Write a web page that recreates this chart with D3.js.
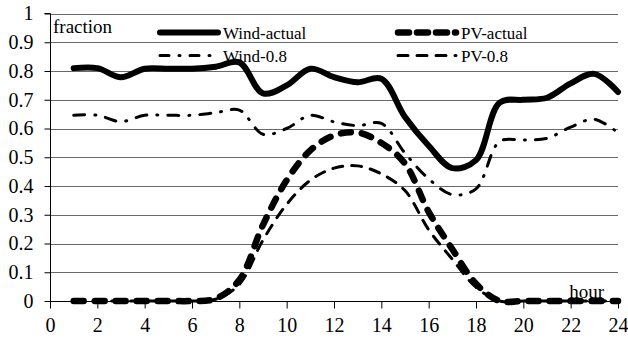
<!DOCTYPE html>
<html><head><meta charset="utf-8">
<script src="https://cdn.jsdelivr.net/npm/d3@7"></script>
<style>body{margin:0;background:#fff}svg{display:block}</style>
</head><body>
<svg id="c" width="628" height="342"></svg>
<script>
const hours = d3.range(1, 25);
const windActual = [0.81,0.81,0.778,0.808,0.808,0.808,0.815,0.83,0.722,0.75,0.808,0.779,0.761,0.773,0.64,0.54,0.462,0.49,0.69,0.70,0.707,0.757,0.79,0.727];
const wind08 = [0.646,0.646,0.624,0.646,0.646,0.646,0.655,0.664,0.58,0.60,0.646,0.623,0.61,0.618,0.514,0.425,0.37,0.39,0.555,0.56,0.566,0.605,0.632,0.585];
const pvActual = [0,0,0,0,0,0,0.008,0.073,0.265,0.42,0.524,0.576,0.586,0.55,0.478,0.31,0.18,0.06,0,0,0,0,0,0];
const pv08 = [0,0,0,0,0,0,0.006,0.058,0.212,0.336,0.42,0.462,0.47,0.442,0.384,0.248,0.145,0.048,0,0,0,0,0,0];
const xTicks = d3.range(0, 25, 2);
const yTicks = d3.range(0, 11).map(d => d / 10);
const seriesNames = ["Wind-actual", "PV-actual", "Wind-0.8", "PV-0.8"];

const FONT = '"Liberation Serif"';
const svg = d3.select("#c").style("font-family", FONT);
const L = 50, R = 618, T = 13.5, B = 301;
const x = d3.scaleLinear().domain([0, 24]).range([L, R]);
const y = d3.scaleLinear().domain([0, 1]).range([B, T]);

// grid
svg.append("g").selectAll("line").data(yTicks.filter(d => d > 0)).join("line")
  .attr("x1", L).attr("x2", R).attr("y1", d => Math.round(y(d)) + 0.5).attr("y2", d => Math.round(y(d)) + 0.5)
  .attr("stroke", "#6a6a6a").attr("stroke-width", 1);

// y axis
const ya = svg.append("g").attr("transform", `translate(${L + 0.5},0)`)
  .call(d3.axisLeft(y).tickValues(yTicks).tickSize(6).tickPadding(11).tickFormat(d => d === 0 ? "0" : d === 1 ? "1" : d3.format(".1f")(d)));
ya.attr("font-family", null).attr("font-size", null);
ya.select(".domain").attr("stroke", "#000").attr("d", `M-6,${T}H0V${B}`);
ya.selectAll(".tick line").attr("stroke", "#000");
ya.selectAll("text").style("font-family", FONT).style("font-size", "20px").attr("fill", "#000");

// x axis
const xa = svg.append("g").attr("transform", `translate(0,${B + 0.5})`)
  .call(d3.axisBottom(x).tickValues(xTicks).tickSize(7).tickPadding(9).tickFormat(d3.format("d")));
xa.attr("font-family", null).attr("font-size", null);
xa.select(".domain").attr("stroke", "#000").attr("d", `M${L},0H${R}`);
xa.selectAll(".tick line").attr("stroke", "#000");
xa.selectAll("text").style("font-family", FONT).style("font-size", "20px").attr("fill", "#000");

const line = d3.line().x((d, i) => x(hours[i])).y(d => y(d)).curve(d3.curveCatmullRom.alpha(0.5));

const styles = {
  "Wind-actual": {data: windActual, w: 6, dash: null, cap: "round"},
  "PV-actual": {data: pvActual, w: 6.5, dash: "10,11", cap: "round"},
  "Wind-0.8": {data: wind08, w: 3, dash: "11,10,1,10", cap: "round"},
  "PV-0.8": {data: pv08, w: 3, dash: "10,9", cap: "round"}
};

const plot = svg.append("g");
["PV-0.8", "Wind-0.8", "PV-actual", "Wind-actual"].forEach(n => {
  const s = styles[n];
  plot.append("path").attr("d", line(s.data)).attr("fill", "none").attr("stroke", "#000")
    .attr("stroke-width", s.w).attr("stroke-linecap", s.cap).attr("stroke-linejoin", "round")
    .attr("stroke-dasharray", s.dash);
});

// legend
const legPos = {"Wind-actual": [157, 32.5], "PV-actual": [395, 32.5], "Wind-0.8": [157, 55.5], "PV-0.8": [395, 55.5]};
const lg = svg.append("g");
seriesNames.forEach(n => {
  const s = styles[n], p = legPos[n];
  lg.append("line").attr("x1", p[0] + 3).attr("x2", p[0] + 61).attr("y1", p[1]).attr("y2", p[1])
    .attr("stroke", "#000").attr("stroke-width", s.w).attr("stroke-linecap", s.cap)
    .attr("stroke-dasharray", n === "Wind-0.8" ? "9,10,1,10" : n === "PV-actual" ? "11,8" : s.dash);
  lg.append("text").attr("x", p[0] + 66).attr("y", p[1] + 6).text(n)
    .style("font-family", FONT).style("font-size", "17px").attr("fill", "#000");
});

svg.append("text").attr("x", 53).attr("y", 33).text("fraction").style("font-family", FONT).style("font-size", "19px");
svg.append("text").attr("x", 604).attr("y", 298).attr("text-anchor", "end").text("hour").style("font-family", FONT).style("font-size", "19px");
</script>
</body></html>
